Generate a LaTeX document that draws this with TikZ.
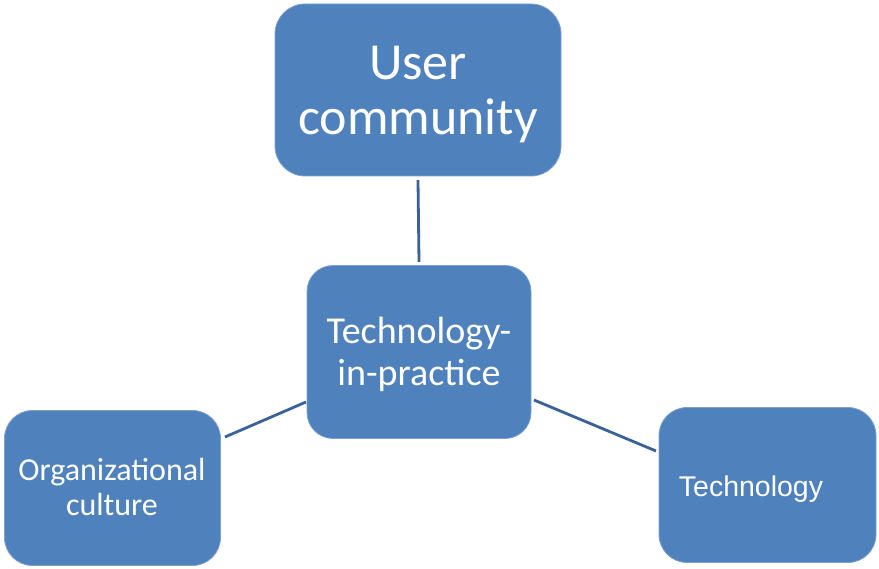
\documentclass[tikz,border=0pt]{standalone}
\usepackage{fontspec}
\setmainfont{Carlito}
\newfontfamily\arialfont{Liberation Sans}
\definecolor{boxfill}{HTML}{4F81BD}
\definecolor{boxline}{HTML}{7DA0CF}
\definecolor{linkcol}{HTML}{3A6198}
\begin{document}
\begin{tikzpicture}[x=1pt,y=-1pt,
  blockbox/.style={draw=boxline,line width=0.8pt,fill=boxfill,text=white,align=center,inner sep=0pt},
  link/.style={draw=linkcol,line width=2.8pt}]
\useasboundingbox (0,0) rectangle (879,569);
\node[blockbox,rounded corners=30pt,minimum width=286pt,minimum height=172pt] (user) at (418,90) {};
\node[text=white,align=center,inner sep=0pt,font=\fontsize{52}{55}\selectfont] (userlabel) at (418,95) {User\\community};
\node[blockbox,rounded corners=26pt,minimum width=224pt,minimum height=173pt] (tip) at (419,352) {};
\node[text=white,align=center,inner sep=0pt,font=\fontsize{38}{42}\selectfont] (tiplabel) at (419,354) {Technology-\\in-practice};
\node[blockbox,rounded corners=28pt,minimum width=216pt,minimum height=155pt] (org) at (112.5,488) {};
\node[text=white,align=center,inner sep=0pt,font=\fontsize{32}{35}\selectfont] (orglabel) at (112,487) {Organizational\\culture};
\node[blockbox,rounded corners=28pt,minimum width=217pt,minimum height=155pt] (tech) at (767.5,485) {};
\node[text=white,font=\arialfont\fontsize{28.5}{33}\selectfont,inner sep=0pt] (techlabel) at (751,489) {Technology};
\coordinate (u1) at (418,180);
\coordinate (u2) at (419,262);
\coordinate (o1) at (225,437);
\coordinate (o2) at (306,402);
\coordinate (t1) at (534,400);
\coordinate (t2) at (656,451);
\draw[link] (u1) -- (u2);
\draw[link] (o1) -- (o2);
\draw[link] (t1) -- (t2);
\end{tikzpicture}
\end{document}
